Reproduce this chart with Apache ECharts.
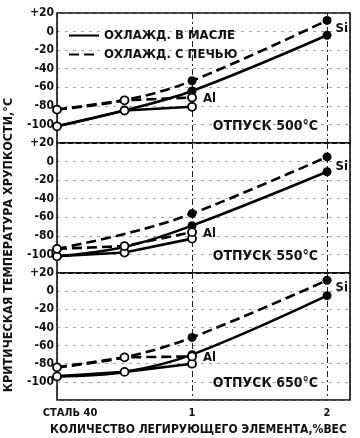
<!DOCTYPE html>
<html>
<head>
<meta charset="utf-8">
<script src="https://cdn.jsdelivr.net/npm/echarts@6/dist/echarts.min.js"></script>
<style>
html,body{margin:0;padding:0;background:#fff;}
#c{width:360px;height:438px;}
</style>
</head>
<body>
<div id="c"></div>
<script>
// ---- data ----
const siX = [0, 0.5, 1, 2];
const alX = [0, 0.5, 1];
const panelTitles = ['ОТПУСК 500°С', 'ОТПУСК 550°С', 'ОТПУСК 650°С'];
// panel 1 (500 °C)
const p1SiOil  = [-102, -85, -64, -4];
const p1SiFurn = [-84, -74, -53, 12];
const p1AlOil  = [-102, -85, -81];
const p1AlFurn = [-84, -74, -71];
// panel 2 (550 °C)
const p2SiOil  = [-102, -92, -69, -11];
const p2SiFurn = [-94, -78, -56, 5];
const p2AlOil  = [-102, -98, -83];
const p2AlFurn = [-94, -91, -76];
// panel 3 (650 °C)
const p3SiOil  = [-94, -89, -70, -5];
const p3SiFurn = [-84, -73, -51, 12];
const p3AlOil  = [-94, -89, -80];
const p3AlFurn = [-84, -73, -72];
const yTicks = [-100, -80, -60, -40, -20, 0, 20];
const xTickLabels = {0: 'СТАЛЬ 40', 1: '1', 2: '2'};
const legendNames = ['ОХЛАЖД. В МАСЛЕ', 'ОХЛАЖД. С ПЕЧЬЮ'];
const yTitle = 'КРИТИЧЕСКАЯ ТЕМПЕРАТУРА ХРУПКОСТИ,°С';
const xTitle = 'КОЛИЧЕСТВО ЛЕГИРУЮЩЕГО ЭЛЕМЕНТА,%ВЕС';

const panels = [
  {siOil: p1SiOil, siFurn: p1SiFurn, alOil: p1AlOil, alFurn: p1AlFurn, siOff: 8},
  {siOil: p2SiOil, siFurn: p2SiFurn, alOil: p2AlOil, alFurn: p2AlFurn, siOff: 10},
  {siOil: p3SiOil, siFurn: p3SiFurn, alOil: p3AlOil, alFurn: p3AlFurn, siOff: 7}
];

const FONT = 'DejaVu Sans Condensed, DejaVu Sans, sans-serif';
const gridTops = [13, 143, 273];
const gridHeights = [130, 130, 127];
const DASH = [10, 5];

const grids = [], xAxes = [], yAxes = [], series = [], graphics = [];

panels.forEach((p, i) => {
  grids.push({left: 57, right: 10, top: gridTops[i], height: gridHeights[i],
    show: true, borderColor: '#000', borderWidth: 1.5, backgroundColor: 'transparent'});
  const last = i === 2;
  xAxes.push({type: 'value', gridIndex: i, min: 0, max: 2.17, interval: 1,
    axisLine: {show: false}, axisTick: {show: false},
    axisLabel: {show: last, margin: 8, color: '#111', fontFamily: FONT, fontWeight: 'bold', fontSize: 11,
      formatter: v => {
        if (v === 0) return '{s|' + xTickLabels[0] + '}';
        return xTickLabels[v] !== undefined ? xTickLabels[v] : '';
      },
      rich: {s: {fontFamily: FONT, fontWeight: 'bold', fontSize: 11, color: '#111', padding: [0, 0, 0, 26]}}},
    splitLine: {show: true, lineStyle: {color: '#222', width: 1, type: [6, 3, 2, 3]}},
    name: last ? xTitle : '', nameLocation: 'middle', nameGap: 24,
    nameTextStyle: {fontFamily: FONT, fontWeight: 'bold', fontSize: 12, color: '#111', padding: [0, 10, 0, 0]}
  });
  yAxes.push({type: 'value', gridIndex: i, min: -120, max: 20, interval: 20,
    axisLine: {show: false}, axisTick: {show: false},
    axisLabel: {margin: 3, color: '#111', fontFamily: FONT, fontWeight: 'bold', fontSize: 12,
      formatter: v => yTicks.indexOf(v) < 0 ? '' : (v > 0 ? '+' + v : String(v))},
    splitLine: {show: true, lineStyle: {color: '#777', width: 1, type: [3, 5], opacity: 0.7}}
  });

  const siData = (vals, withLabel) => vals.map((v, k) => {
    const item = {value: [siX[k], v]};
    if (siX[k] >= 1) { item.symbol = 'circle'; item.symbolSize = 9; }
    if (withLabel && siX[k] === 2) {
      item.label = {show: true, position: 'right', distance: 4, offset: [0, p.siOff], formatter: 'Si',
        fontFamily: FONT, fontWeight: 'bold', fontSize: 13, color: '#111'};
    }
    return item;
  });
  const alData = (vals, withLabel) => vals.map((v, k) => {
    const item = {value: [alX[k], v]};
    if (withLabel && alX[k] === 1) {
      item.label = {show: true, position: 'right', distance: 6, offset: [0, 1], formatter: 'Al',
        fontFamily: FONT, fontWeight: 'bold', fontSize: 13, color: '#111'};
    }
    return item;
  });

  series.push({name: legendNames[0], type: 'line', xAxisIndex: i, yAxisIndex: i, smooth: 0.35,
    symbol: 'none', data: siData(p.siOil, false), z: 2,
    lineStyle: {color: '#000', width: 2.6}, itemStyle: {color: '#000'}});
  series.push({name: legendNames[1], type: 'line', xAxisIndex: i, yAxisIndex: i, smooth: 0.35,
    symbol: 'none', data: siData(p.siFurn, true), z: 2,
    lineStyle: {color: '#000', width: 2.6, type: DASH}, itemStyle: {color: '#000'}});
  series.push({name: legendNames[0], type: 'line', xAxisIndex: i, yAxisIndex: i,
    symbol: 'circle', symbolSize: 8, data: alData(p.alOil, false), z: 3,
    lineStyle: {color: '#000', width: 2.6}, itemStyle: {color: '#fff', borderColor: '#000', borderWidth: 1.8}});
  series.push({name: legendNames[1], type: 'line', xAxisIndex: i, yAxisIndex: i,
    symbol: 'circle', symbolSize: 8, data: alData(p.alFurn, true), z: 3,
    lineStyle: {color: '#000', width: 2.6, type: DASH}, itemStyle: {color: '#fff', borderColor: '#000', borderWidth: 1.8}});

  graphics.push({type: 'text', right: 42, top: gridTops[i] + gridHeights[i] - 24,
    style: {text: panelTitles[i], fontFamily: FONT, fontWeight: 'bold', fontSize: 14, fill: '#111'}});
});

graphics.push({type: 'text', x: 9, y: 245, rotation: Math.PI / 2, originX: 0, originY: 0,
  style: {text: yTitle, fontFamily: FONT, fontWeight: 'bold', fontSize: 12.5, fill: '#111',
    align: 'center', verticalAlign: 'middle'}});

const chart = echarts.init(document.getElementById('c'), null, {renderer: 'canvas'});
chart.setOption({
  animation: false,
  backgroundColor: '#fff',
  grid: grids,
  xAxis: xAxes,
  yAxis: yAxes,
  legend: {data: legendNames, orient: 'vertical', left: 63, top: 24, itemWidth: 30, itemHeight: 12, itemGap: 6,
    selectedMode: false,
    itemStyle: {color: 'rgba(0,0,0,0)', borderColor: 'rgba(0,0,0,0)', borderWidth: 0},
    textStyle: {fontFamily: FONT, fontWeight: 'bold', fontSize: 13, color: '#111'}},
  series: series,
  graphic: graphics
});
</script>
</body>
</html>
